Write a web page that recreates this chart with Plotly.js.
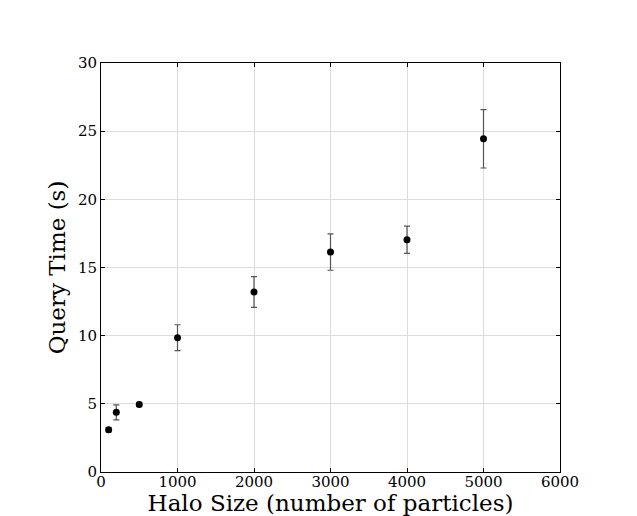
<!DOCTYPE html>
<html><head><meta charset="utf-8">
<script src="https://cdn.plot.ly/plotly-3.0.1.min.js"></script>
<style>body{margin:0;background:#fff}#chart{width:637px;height:516px}</style>
</head><body><div id="chart"></div>
<script>
const haloSize = [100, 200, 500, 1000, 2000, 3000, 4000, 5000];
const queryTime = [3.10, 4.38, 4.96, 9.85, 13.2, 16.13, 17.03, 24.44];
const queryErr = [0.15, 0.55, 0.15, 0.95, 1.13, 1.33, 1.0, 2.14];
const xTicks = [0, 1000, 2000, 3000, 4000, 5000, 6000];
const yTicks = [0, 5, 10, 15, 20, 25, 30];

const font = "DejaVu Serif, serif";
Plotly.newPlot('chart', [{
  x: haloSize, y: queryTime, type: 'scatter', mode: 'markers',
  marker: {color: '#000', size: 7},
  error_y: {type: 'data', array: queryErr, visible: true, color: '#555', thickness: 1.2, width: 3}
}], {
  width: 637, height: 516,
  margin: {l: 101, r: 77, t: 63, b: 44},
  paper_bgcolor: '#fff', plot_bgcolor: '#fff',
  showlegend: false,
  font: {family: font, color: '#000'},
  xaxis: {
    range: [0, 6000], tickvals: xTicks, ticktext: xTicks.map(String),
    showgrid: true, gridcolor: '#dcdcdc', gridwidth: 1, zeroline: false,
    showline: true, linecolor: '#000', linewidth: 1, mirror: 'ticks',
    ticks: 'inside', ticklen: 4, tickcolor: '#000', ticklabelstandoff: -4,
    tickfont: {family: font, size: 15, color: '#000'},
    title: {text: 'Halo Size (number of particles)', font: {family: font, size: 23, color: '#000'}, standoff: 10}
  },
  yaxis: {
    range: [0, 30], tickvals: yTicks, ticktext: yTicks.map(String),
    showgrid: true, gridcolor: '#dcdcdc', gridwidth: 1, zeroline: false,
    showline: true, linecolor: '#000', linewidth: 1, mirror: 'ticks',
    ticks: 'inside', ticklen: 4, tickcolor: '#000',
    tickfont: {family: font, size: 15, color: '#000'},
    title: {text: 'Query Time (s)', font: {family: font, size: 23, color: '#000'}, standoff: 5}
  }
}, {displayModeBar: false, staticPlot: true});
</script></body></html>
